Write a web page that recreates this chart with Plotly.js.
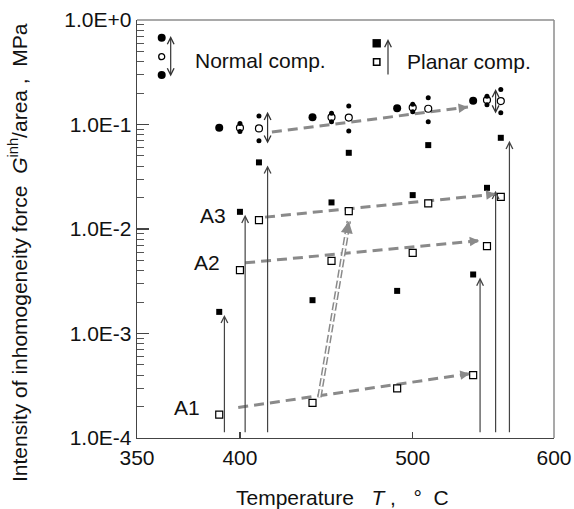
<!DOCTYPE html>
<html><head><meta charset="utf-8">
<script src="https://cdn.plot.ly/plotly-3.0.1.min.js"></script>
<style>html,body{margin:0;padding:0;background:#fff}</style>
</head><body>
<div id="chart" style="width:574px;height:509px"></div>
<script>
// ---------- data ----------
// temperatures (°C) of the three specimens
const tempA1 = [388, 442, 491, 535];
const tempA2 = [400, 453, 500, 543];
const tempA3 = [411, 463, 509, 551];

// normal component, MPa
const normalA1      = [0.0930, 0.117, 0.1427, 0.1687];
const normalA2Mean  = [0.0930, 0.117, 0.1453, 0.1714];
const normalA2Upper = [0.1021, 0.1278, 0.1562, 0.1859];
const normalA2Lower = [0.0855, 0.1062, 0.1321, 0.1545];
const normalA3Mean  = [0.0918, 0.1165, 0.1415, 0.1677];
const normalA3Upper = [0.1204, 0.1501, 0.1803, 0.2161];
const normalA3Lower = [0.0699, 0.0865, 0.1062, 0.1292];

// planar component, MPa (filled = upper bound, open = value)
const planarUpperA1 = [0.00161, 0.002084, 0.002557, 0.00367];
const planarUpperA2 = [0.0146, 0.01796, 0.0211, 0.02478];
const planarUpperA3 = [0.0434, 0.0536, 0.0635, 0.0746];
const planarA1 = [0.0001676, 0.0002165, 0.000299, 0.000399];
const planarA2 = [0.004036, 0.004957, 0.00591, 0.006852];
const planarA3 = [0.01216, 0.01483, 0.01757, 0.02032];

// vertical "upper bound" arrows (temperature, tip value)
const upArrowT   = [391, 403, 416, 539, 548, 556];
const upArrowTop = [planarUpperA1[0], planarUpperA2[0], planarUpperA3[0],
                    planarUpperA1[3], planarUpperA2[3], planarUpperA3[3]];
const upArrowBase = 1.1e-4;

// double-headed range arrows of the normal component
const rangeArrowT      = [416, 548];
const rangeArrowTop    = [0.1324, 0.2184];
const rangeArrowBottom = [0.0635, 0.1231];

// gray dashed trend arrows: [startT, startV, endT, endV]
const trendNormal = [418.5, 0.0846, 532, 0.1469];
const trendA3     = [414.5, 0.01299, 548, 0.02157];
const trendA2     = [403, 0.004742, 538.5, 0.007735];
const trendA1     = [399, 0.0001956, 533, 0.000412];
const transition  = [446, 0.0002455, 463, 0.01189];

// axis ticks
const xRange = [340.4, 581.8];
const xTickVals = [340.4, 400, 500, 581.8];
const xTickText = ['350', '400', '500', '600'];
const yTickVals = [1e-4, 1e-3, 1e-2, 1e-1, 1];
const yTickText = ['1.0E-4', '1.0E-3', '1.0E-2', '1.0E-1', '1.0E+0'];

// ---------- layout geometry ----------
const W = 574, H = 509;
const M = {l: 137, r: 20, t: 20, b: 71};
const PW = W - M.l - M.r, PH = H - M.t - M.b;
const pxPerT = PW / (xRange[1] - xRange[0]);
const pxPerDec = PH / 4;
const px2x = px => (px - M.l) / PW;
const px2y = py => (M.t + PH - py) / PH;

const FONT = 'Liberation Sans, Arial, sans-serif';
const GRAY = '#8a8a8a';
const INK = '#111';

const minorVals = [];
[-4, -3, -2, -1].forEach(d => { for (let k = 2; k <= 9; k++) minorVals.push(k * Math.pow(10, d)); });

const traces = [];
function trendLine(t, dash, width, color) {
  traces.push({x: [t[0], t[2]], y: [t[1], t[3]], mode: 'lines', hoverinfo: 'skip',
    line: {color: color, width: width, dash: dash}, showlegend: false});
}
[trendNormal, trendA3, trendA2, trendA1].forEach(t => trendLine(t, '10px,6px', 3, GRAY));
trendLine(transition, '8px,3px', 4.6, GRAY);
trendLine(transition, '8px,3px', 1.6, '#ffffff');

function pts(x, y, symbol, size, color, lineW) {
  traces.push({x: x, y: y, mode: 'markers', showlegend: false, hoverinfo: 'x+y',
    marker: {symbol: symbol, size: size, color: color, line: {color: '#000', width: lineW || 0}}});
}
// normal component
pts(tempA1, normalA1, 'circle', 8, '#000');
pts(tempA2, normalA2Upper, 'circle', 5, '#000');
pts(tempA2, normalA2Lower, 'circle', 5, '#000');
pts(tempA3, normalA3Upper, 'circle', 5, '#000');
pts(tempA3, normalA3Lower, 'circle', 5, '#000');
pts(tempA2, normalA2Mean, 'circle-open', 7, '#000', 1.2);
pts(tempA3, normalA3Mean, 'circle-open', 7, '#000', 1.2);
// planar component
pts(tempA1, planarUpperA1, 'square', 6, '#000');
pts(tempA2, planarUpperA2, 'square', 6, '#000');
pts(tempA3, planarUpperA3, 'square', 6, '#000');
pts(tempA1, planarA1, 'square', 7, '#fff', 1.2);
pts(tempA2, planarA2, 'square', 7, '#fff', 1.2);
pts(tempA3, planarA3, 'square', 7, '#fff', 1.2);

const L10 = Math.log10;
const annotations = [];
// vertical arrows
upArrowT.forEach((t, i) => {
  annotations.push({x: t, y: L10(upArrowTop[i]), xref: 'x', yref: 'y',
    ax: t, ay: L10(upArrowBase), axref: 'x', ayref: 'y', text: '', showarrow: true,
    arrowhead: 5, arrowsize: 1.1, arrowwidth: 1.2, arrowcolor: '#444', standoff: 3});
});
// double-headed range arrows
rangeArrowT.forEach((t, i) => {
  annotations.push({x: t, y: L10(rangeArrowTop[i]), xref: 'x', yref: 'y',
    ax: t, ay: L10(rangeArrowBottom[i]), axref: 'x', ayref: 'y', text: '', showarrow: true,
    arrowside: 'end+start', arrowhead: 5, startarrowhead: 5, arrowsize: 1.1, arrowwidth: 1.2,
    arrowcolor: '#333'});
});
// trend arrow heads
function head(t, len, wid, size) {
  const dx = (t[2] - t[0]) * pxPerT;
  const dy = (L10(t[3]) - L10(t[1])) * pxPerDec;
  const n = Math.hypot(dx, dy);
  annotations.push({x: t[2], y: L10(t[3]), xref: 'x', yref: 'y', text: '', showarrow: true,
    ax: -dx / n * len, ay: dy / n * len, arrowhead: 2, arrowsize: size, arrowwidth: wid,
    arrowcolor: GRAY});
}
[trendNormal, trendA3, trendA2, trendA1].forEach(t => head(t, 8, 3, 0.63));
head(transition, 10, 4, 0.6);

// specimen labels
[['A3', 384.5, 0.01337], ['A2', 380.7, 0.004742], ['A1', 369.1, 0.0001956]].forEach(a => {
  annotations.push({x: a[1], y: L10(a[2]), xref: 'x', yref: 'y', text: a[0], showarrow: false,
    font: {family: FONT, size: 21, color: INK}, xanchor: 'center', yanchor: 'middle'});
});

// legend texts and arrows
annotations.push({x: px2x(193), y: px2y(60), xref: 'paper', yref: 'paper', text: 'Normal comp.',
  showarrow: false, xanchor: 'left', yanchor: 'middle', font: {family: FONT, size: 21, color: INK}});
annotations.push({x: px2x(405), y: px2y(62), xref: 'paper', yref: 'paper', text: 'Planar comp.',
  showarrow: false, xanchor: 'left', yanchor: 'middle', font: {family: FONT, size: 21, color: INK}});
annotations.push({x: px2x(170.7), y: px2y(36), xref: 'paper', yref: 'paper', text: '', showarrow: true,
  ax: 0, ay: 42, arrowside: 'end+start', arrowhead: 5, startarrowhead: 5, arrowsize: 1.1,
  arrowwidth: 1.2, arrowcolor: '#333'});
annotations.push({x: px2x(388), y: px2y(39), xref: 'paper', yref: 'paper', text: '', showarrow: true,
  ax: 0, ay: 37, arrowhead: 5, arrowsize: 1.1, arrowwidth: 1.2, arrowcolor: '#333'});

// axis titles
annotations.push({x: px2x(18), y: px2y(253), xref: 'paper', yref: 'paper', textangle: -90,
  text: 'Intensity of inhomogeneity force\u00a0\u00a0<i>G</i><sup>inh</sup>/area\u00a0,\u00a0\u00a0MPa',
  showarrow: false, xanchor: 'center', yanchor: 'middle', font: {family: FONT, size: 21, color: INK}});
annotations.push({x: px2x(342.5), y: px2y(497), xref: 'paper', yref: 'paper',
  text: 'Temperature\u00a0\u00a0\u00a0<i>T</i>\u00a0,\u00a0\u00a0\u00a0°\u00a0\u00a0C',
  showarrow: false, xanchor: 'center', yanchor: 'middle', font: {family: FONT, size: 21, color: INK}});

// legend symbols and frame
const shapes = [];
function sym(type, cx, cy, r, fill, lw) {
  shapes.push({type: type, xref: 'paper', yref: 'paper', xsizemode: 'pixel', ysizemode: 'pixel',
    xanchor: px2x(cx), yanchor: px2y(cy), x0: -r, x1: r, y0: -r, y1: r,
    fillcolor: fill, line: {color: '#000', width: lw}});
}
sym('circle', 161.7, 37.7, 4, '#000', 0);
sym('circle', 161.7, 56.7, 3, '#fff', 1.3);
sym('circle', 161.7, 75, 4, '#000', 0);
sym('rect', 376.7, 43.3, 4.2, '#000', 0);
sym('rect', 376.7, 62, 3.2, '#fff', 1.5);
shapes.push({type: 'line', xref: 'paper', yref: 'paper', x0: 0, x1: 1, y0: 1, y1: 1,
  line: {color: '#8c8c8c', width: 1.5}});
shapes.push({type: 'line', xref: 'paper', yref: 'paper', x0: 1, x1: 1, y0: 0, y1: 1,
  line: {color: '#8c8c8c', width: 1.5}});

const layout = {
  width: W, height: H, margin: M, paper_bgcolor: '#fff', plot_bgcolor: '#fff',
  showlegend: false, font: {family: FONT, size: 21, color: INK},
  xaxis: {range: xRange, tickmode: 'array', tickvals: xTickVals, ticktext: xTickText,
    ticks: 'inside', ticklen: 6, tickwidth: 1.2, tickcolor: '#444', showline: true,
    linecolor: '#444', linewidth: 1.3, showgrid: false, zeroline: false,
    tickfont: {family: FONT, size: 21, color: INK}},
  yaxis: {type: 'log', range: [-4, 0], tickmode: 'array', tickvals: yTickVals, ticktext: yTickText,
    ticks: 'inside', ticklen: 12, tickwidth: 1.2, tickcolor: '#444', showline: true,
    linecolor: '#444', linewidth: 1.3, showgrid: false, zeroline: false,
    tickfont: {family: FONT, size: 21, color: INK},
    minor: {tickmode: 'array', tickvals: minorVals, ticks: 'inside', ticklen: 7,
      tickcolor: '#555', tickwidth: 1, showgrid: false}},
  annotations: annotations, shapes: shapes
};
Plotly.newPlot('chart', traces, layout, {displayModeBar: false, staticPlot: true});
</script>
</body></html>
